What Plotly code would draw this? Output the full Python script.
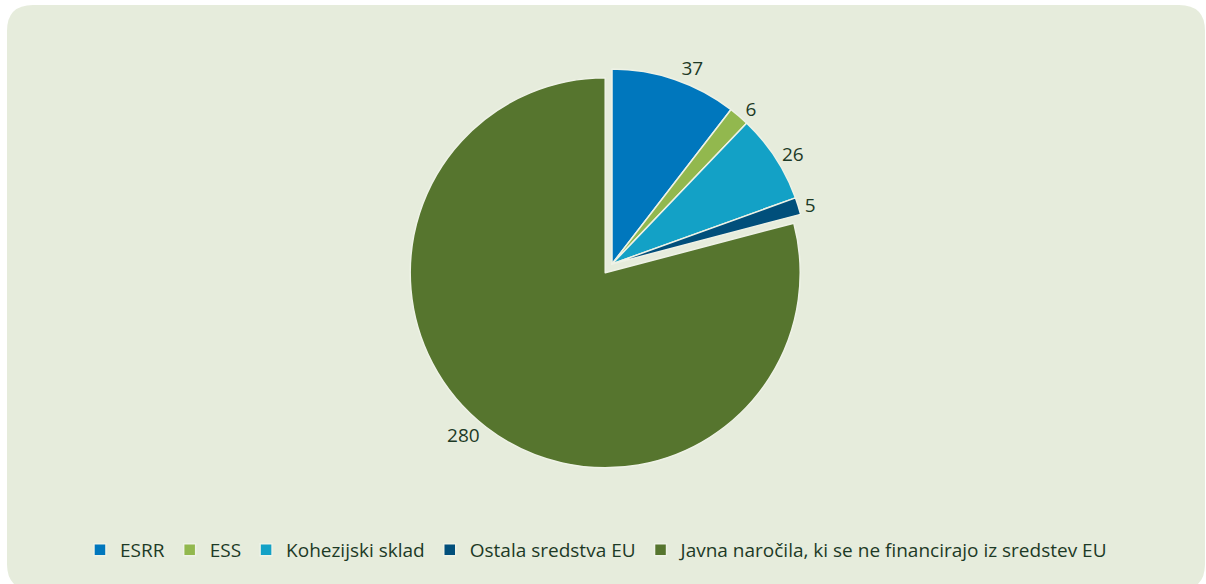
import plotly.graph_objects as go

categories = ["ESRR", "ESS", "Kohezijski sklad", "Ostala sredstva EU",
              "Javna naročila, ki se ne financirajo iz sredstev EU"]
values = [37, 6, 26, 5, 280]
colors = ["#0077bd", "#92b84e", "#13a1c6", "#014f7b", "#56752e"]
pulls = [0, 0, 0, 0, 0.057]

W, H = 1206, 584
bg = "#e6ecdc"
txt = "#1d3a26"
FONT = "Open Sans"

cx, cy, r = 612, 264, 195
half = r * (1 + max(pulls))

fig = go.Figure(go.Pie(
    labels=categories, values=values, sort=False, direction="clockwise",
    rotation=0, pull=pulls,
    marker=dict(colors=colors, line=dict(color="#eef2e6", width=1.5)),
    texttemplate="%{value}", textposition="outside",
    textfont=dict(size=19, color=txt, family=FONT),
    domain=dict(x=[(cx - half) / W, (cx + half) / W],
                y=[1 - (cy + half) / H, 1 - (cy - half) / H]),
    showlegend=True, hoverinfo="label+value",
))

# rounded background panel
x0, x1, y0, y1, rad = 7, 1205, 5, 590, 26
def px(x): return x / W
def py(y): return 1 - y / H
path = (f"M {px(x0+rad)},{py(y0)} L {px(x1-rad)},{py(y0)} "
        f"Q {px(x1)},{py(y0)} {px(x1)},{py(y0+rad)} "
        f"L {px(x1)},{py(y1-rad)} Q {px(x1)},{py(y1)} {px(x1-rad)},{py(y1)} "
        f"L {px(x0+rad)},{py(y1)} Q {px(x0)},{py(y1)} {px(x0)},{py(y1-rad)} "
        f"L {px(x0)},{py(y0+rad)} Q {px(x0)},{py(y0)} {px(x0+rad)},{py(y0)} Z")

fig.update_layout(
    width=W, height=H,
    margin=dict(l=0, r=0, t=0, b=0),
    paper_bgcolor="white",
    font=dict(family=FONT, color=txt, size=19),
    shapes=[dict(type="path", path=path, xref="paper", yref="paper",
                 fillcolor=bg, line=dict(width=0), layer="below")],
    legend=dict(orientation="h", x=0.495, xanchor="center", y=1 - 550 / H,
                yanchor="middle", font=dict(size=19, color=txt, family=FONT),
                itemwidth=30, traceorder="normal", bgcolor="rgba(0,0,0,0)"),
)

fig.write_html("out.html", config={"displayModeBar": False},
               post_script="document.body.style.margin='0';document.body.style.overflow='hidden';")
